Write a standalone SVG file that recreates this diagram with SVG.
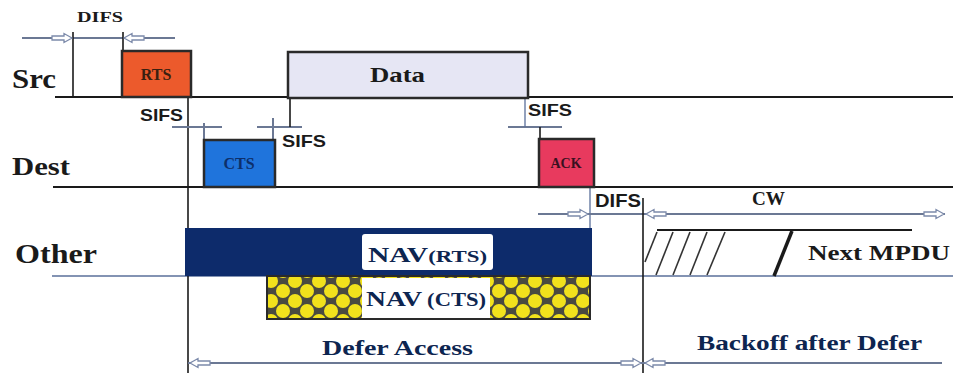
<svg xmlns="http://www.w3.org/2000/svg" width="953" height="373" viewBox="0 0 953 373">
<style>
.lbl{font-family:"Liberation Serif","Times New Roman",serif;font-weight:bold;fill:#1a1a1a}
.sm{font-family:"Liberation Sans",Arial,sans-serif;font-weight:bold;fill:#1a1a1a}
.nav{font-family:"Liberation Serif","Times New Roman",serif;font-weight:bold;fill:#0d2550}
.axis{stroke:#1a1a1a;stroke-width:2;fill:none}
.vl{stroke:#1a1a1a;stroke-width:1.6;fill:none}
.dim{stroke:#6b7894;stroke-width:2;fill:none}
.thin{stroke:#5a6f9a;stroke-width:1.3;fill:none}
.box{stroke:#2a2a2a;stroke-width:2.5}
</style>
<defs>
<path id="ar" d="M0,0 L-8,-4.5 L-8,-2 L-20,-2 L-20,2 L-8,2 L-8,4.5 Z" fill="#ffffff" stroke="#7c8aaa" stroke-width="1.3"/>
<pattern id="dots" width="24" height="20" patternUnits="userSpaceOnUse" x="271" y="281">
<rect width="24" height="20" fill="#4a4a40"/>
<g fill="#f2e21c">
<circle cx="0" cy="0" r="7"/>
<circle cx="24" cy="0" r="7"/>
<circle cx="12" cy="10" r="7"/>
<circle cx="0" cy="20" r="7"/>
<circle cx="24" cy="20" r="7"/>
</g>
</pattern>
</defs>
<rect width="953" height="373" fill="#ffffff"/>

<g id="connectors">
<line class="axis" x1="55" y1="97" x2="953" y2="97"/>
<line class="axis" x1="53" y1="187" x2="953" y2="187"/>
<line class="thin" x1="52" y1="276" x2="953" y2="276"/>
<line class="dim" x1="22" y1="38" x2="175" y2="38"/>
<line class="vl" x1="73" y1="32" x2="73" y2="97"/>
<line class="vl" x1="123" y1="32" x2="123" y2="51"/>
<use href="#ar" transform="translate(72,38)"/>
<use href="#ar" transform="translate(124,38) rotate(180)"/>
<line class="vl" x1="188" y1="97" x2="188" y2="373"/>
<line class="dim" x1="172" y1="127" x2="222" y2="127"/>
<line class="dim" x1="204" y1="123" x2="204" y2="140"/>
<line class="dim" x1="257" y1="127" x2="302" y2="127"/>
<line class="dim" x1="273" y1="118" x2="273" y2="140"/>
<line class="vl" x1="290" y1="98" x2="290" y2="127"/>
<line class="dim" x1="508" y1="127" x2="562" y2="127"/>
<line class="thin" x1="525" y1="98" x2="525" y2="127"/>
<line class="vl" x1="540" y1="127" x2="540" y2="139"/>
<line class="thin" x1="590" y1="187" x2="590" y2="276"/>
<line class="dim" x1="538" y1="214" x2="945" y2="214"/>
<use href="#ar" transform="translate(588,214)"/>
<use href="#ar" transform="translate(646,214) rotate(180)"/>
<use href="#ar" transform="translate(944,214)"/>
<line class="vl" x1="643" y1="198" x2="643" y2="373"/>
<line class="dim" x1="188" y1="363" x2="942" y2="363"/>
<use href="#ar" transform="translate(190,363) rotate(180)"/>
<use href="#ar" transform="translate(641,363)"/>
<use href="#ar" transform="translate(645,363) rotate(180)"/>
</g>

<g id="label-src"><text class="lbl" x="12" y="88" font-size="27" textLength="44" lengthAdjust="spacingAndGlyphs">Src</text></g>
<g id="label-dest"><text class="lbl" x="12" y="175" font-size="26" textLength="58" lengthAdjust="spacingAndGlyphs">Dest</text></g>
<g id="label-other"><text class="lbl" x="15" y="263" font-size="27" textLength="82" lengthAdjust="spacingAndGlyphs">Other</text></g>

<g id="difs-top"><text class="lbl" x="77" y="22" font-size="14" textLength="46" lengthAdjust="spacingAndGlyphs">DIFS</text></g>
<g id="sifs-1"><text class="sm" x="140" y="121" font-size="17" textLength="43" lengthAdjust="spacingAndGlyphs">SIFS</text></g>
<g id="sifs-2"><text class="sm" x="282" y="147" font-size="17" textLength="44" lengthAdjust="spacingAndGlyphs">SIFS</text></g>
<g id="sifs-3"><text class="sm" x="528" y="116" font-size="17" textLength="44" lengthAdjust="spacingAndGlyphs">SIFS</text></g>
<g id="difs-ack"><text class="sm" x="595" y="207" font-size="18" textLength="46" lengthAdjust="spacingAndGlyphs">DIFS</text></g>
<g id="cw"><text class="lbl" x="752" y="205" font-size="18" textLength="33" lengthAdjust="spacingAndGlyphs">CW</text></g>

<g id="rts">
<rect class="box" x="122" y="51" width="69" height="46" fill="#ec5a2c"/>
<text class="lbl" x="156" y="80" font-size="16" text-anchor="middle" style="fill:#3a2010">RTS</text>
</g>
<g id="cts">
<rect class="box" x="204" y="140" width="71" height="47" fill="#1f74dc"/>
<text class="lbl" x="239" y="169" font-size="16" text-anchor="middle" style="fill:#0d2f6a">CTS</text>
</g>
<g id="data">
<rect class="box" x="288" y="52" width="240" height="46" fill="#e6e6f4"/>
<text class="lbl" x="370" y="82" font-size="22" textLength="55" lengthAdjust="spacingAndGlyphs">Data</text>
</g>
<g id="ack">
<rect class="box" x="539" y="139" width="55" height="48" fill="#e83a5e"/>
<text class="lbl" x="566" y="168" font-size="14" text-anchor="middle" style="fill:#3a1020">ACK</text>
</g>

<g id="nav-rts">
<rect x="185" y="228" width="407" height="48" fill="#0d2b6b"/>
<rect x="362" y="234" width="131" height="36" rx="3" fill="#ffffff"/>
<text class="nav" x="368" y="262" textLength="119" lengthAdjust="spacingAndGlyphs"><tspan font-size="22">NAV</tspan><tspan font-size="17">(RTS)</tspan></text>
</g>
<g id="nav-cts">
<rect x="267" y="276" width="323" height="43" fill="url(#dots)" stroke="#2a2a2a" stroke-width="2"/>
<rect x="362" y="278" width="128" height="40" fill="#ffffff"/>
<text class="nav" x="366" y="306" textLength="120" lengthAdjust="spacingAndGlyphs"><tspan font-size="22">NAV</tspan><tspan font-size="18" dx="4">(CTS)</tspan></text>
</g>

<g id="backoff-slots">
<line class="axis" x1="657" y1="230" x2="912" y2="230"/>
<g stroke="#333" stroke-width="1.6">
<line x1="657" y1="232" x2="645" y2="262"/>
<line x1="673" y1="232" x2="656" y2="275"/>
<line x1="690" y1="232" x2="673" y2="275"/>
<line x1="707" y1="232" x2="690" y2="275"/>
<line x1="725" y1="232" x2="707" y2="275"/>
</g>
<line x1="774" y1="276" x2="792" y2="231" stroke="#1a1a1a" stroke-width="3.5"/>
</g>
<g id="next-mpdu"><text class="lbl" x="808" y="260" font-size="22" textLength="142" lengthAdjust="spacingAndGlyphs">Next MPDU</text></g>

<g id="defer-access"><text class="nav" x="322" y="355" font-size="22" textLength="151" lengthAdjust="spacingAndGlyphs">Defer Access</text></g>
<g id="backoff-after-defer"><text class="nav" x="697" y="350" font-size="22" textLength="225" lengthAdjust="spacingAndGlyphs">Backoff after Defer</text></g>
</svg>
